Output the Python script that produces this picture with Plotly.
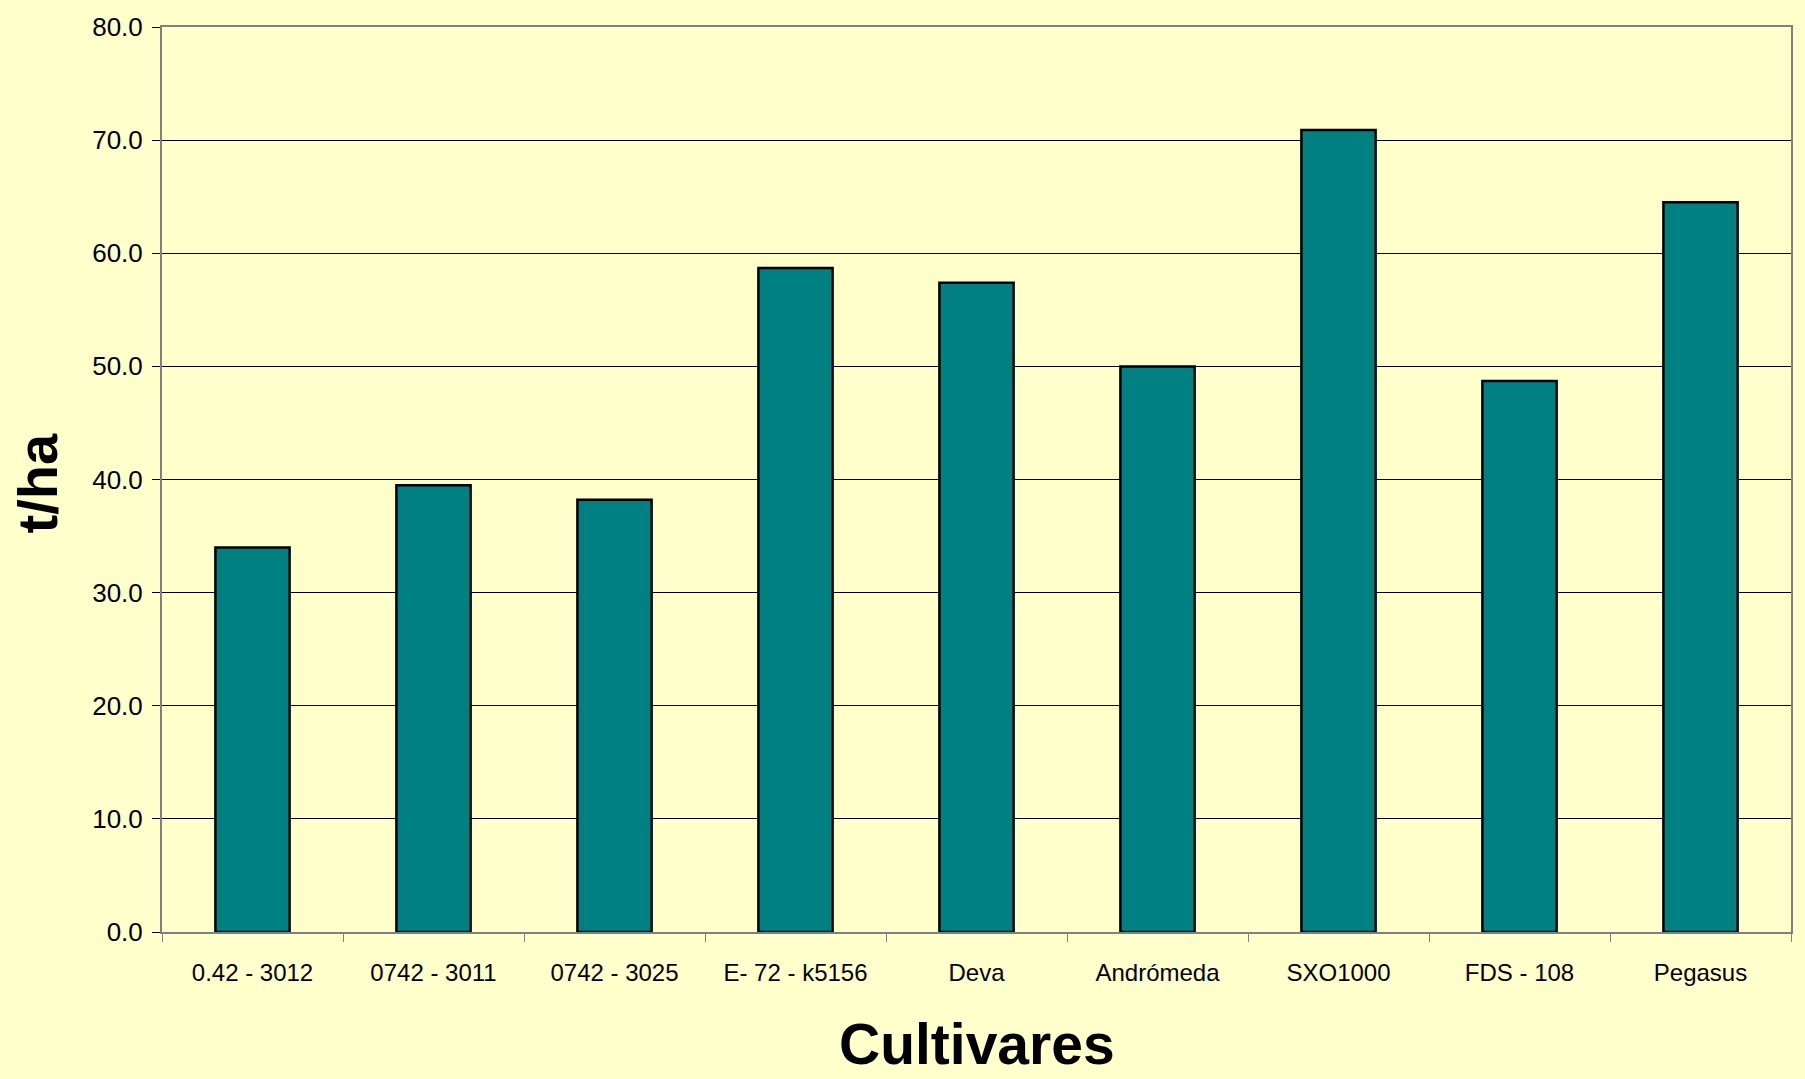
import plotly.graph_objects as go

categories = ["0.42 - 3012", "0742 - 3011", "0742 - 3025", "E- 72 - k5156", "Deva",
              "Andrómeda", "SXO1000", "FDS - 108", "Pegasus"]
values = [34.0, 39.5, 38.2, 58.7, 57.4, 50.0, 70.9, 48.7, 64.5]
y_ticks = [0, 10, 20, 30, 40, 50, 60, 70, 80]
y_ticklabels = ["%.1f" % v for v in y_ticks]

W, H = 1805, 1079
L, R, T, B = 162, 14, 20, 147
pw, ph = W - L - R, H - T - B

fig = go.Figure(go.Bar(
    x=categories, y=values, width=0.41,
    marker=dict(color="#008080", line=dict(color="#000000", width=2.5)),
))

fig.update_layout(
    width=W, height=H,
    margin=dict(l=L, r=R, t=T, b=B),
    paper_bgcolor="#FFFFCC", plot_bgcolor="#FFFFCC",
    showlegend=False,
    font=dict(family="Liberation Sans, Arial, sans-serif", color="#000000"),
    xaxis=dict(
        showline=True, linecolor="#808080", linewidth=2, mirror=True,
        ticks="outside", tickson="boundaries", ticklen=8, tickcolor="#808080",
        tickfont=dict(size=24), ticklabelstandoff=18,
        showgrid=False,
    ),
    yaxis=dict(
        range=[0, 80], tickvals=y_ticks, ticktext=y_ticklabels,
        showline=True, linecolor="#808080", linewidth=2, mirror=True,
        ticks="outside", ticklen=8, tickcolor="#000000",
        tickfont=dict(size=26), ticklabelstandoff=4,
        showgrid=True, gridcolor="#000000", gridwidth=1,
        zeroline=False,
    ),
    annotations=[
        dict(text="<b>Cultivares</b>", xref="paper", yref="paper",
             x=0.5, y=(T + ph - 1078) / ph, xanchor="center", yanchor="bottom",
             showarrow=False, borderpad=0, font=dict(size=57, color="#000000")),
        dict(text="<b>t/ha</b>", xref="paper", yref="paper",
             x=(37 - L) / pw, y=(T + ph - 480) / ph, xanchor="center", yanchor="middle",
             textangle=-90, showarrow=False, font=dict(size=56, color="#000000")),
    ],
)

fig.write_html("out.html", config={"displayModeBar": False},
               post_script="document.body.style.margin='0';document.body.style.overflow='hidden';")
